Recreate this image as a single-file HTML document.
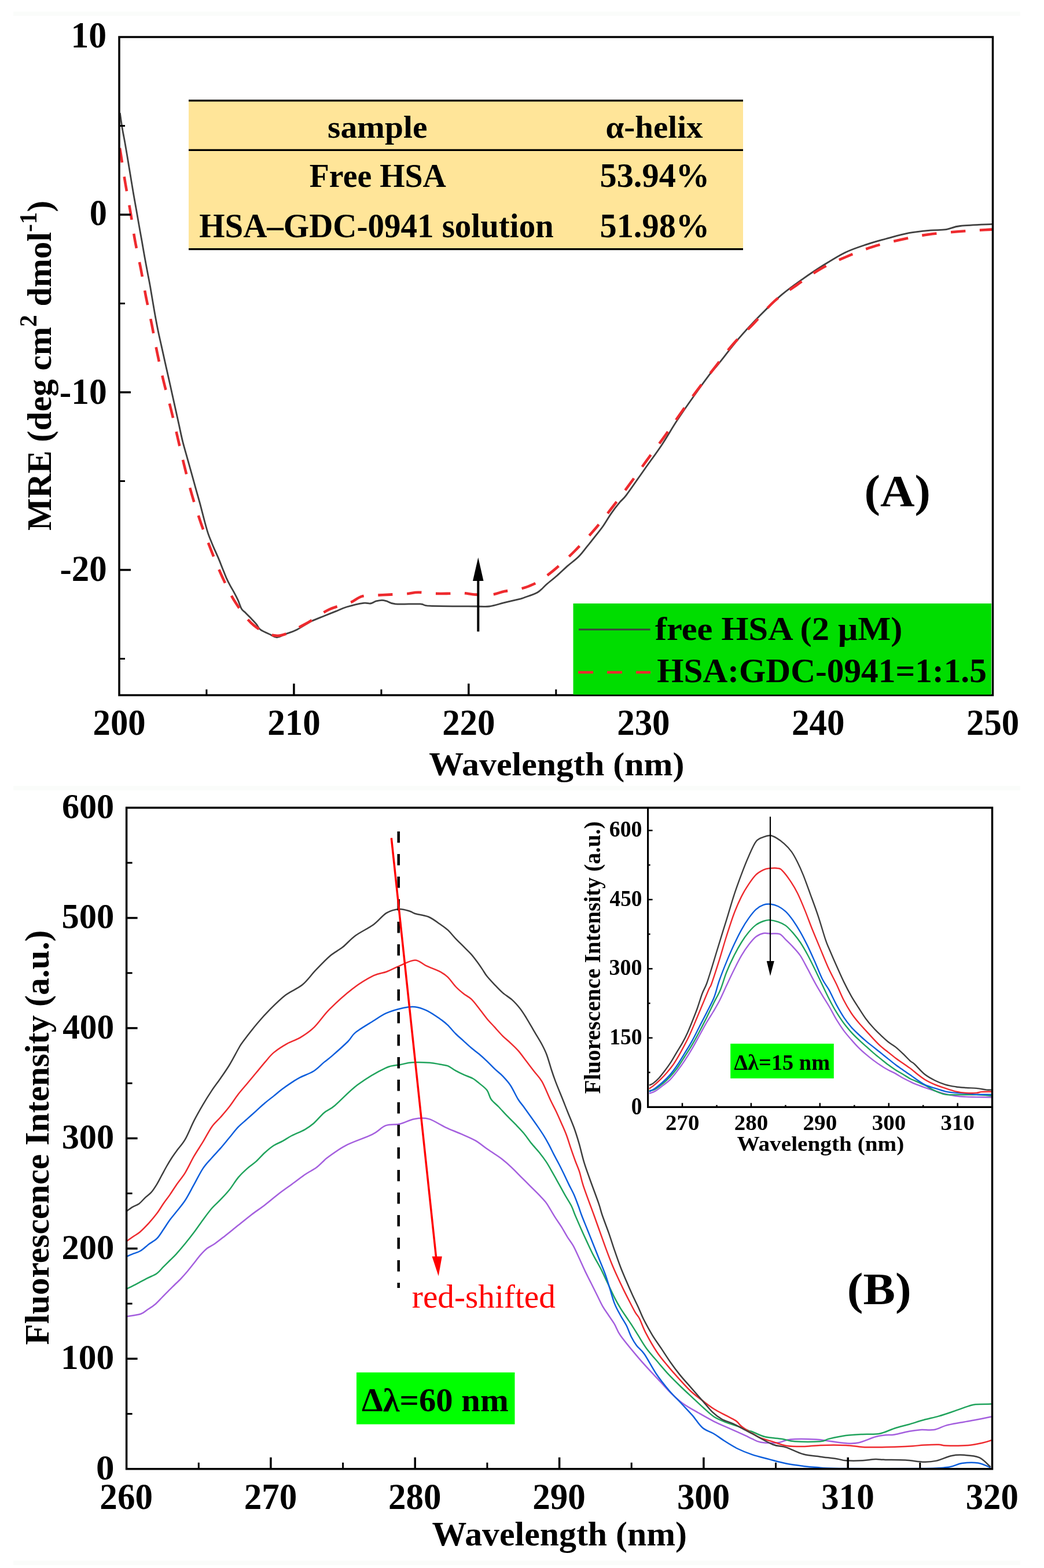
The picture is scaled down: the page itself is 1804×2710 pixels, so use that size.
<!DOCTYPE html><html><head><meta charset="utf-8"><title>CD and synchronous fluorescence spectra of HSA</title>
<style>html,body{margin:0;padding:0;background:#fff;overflow:hidden;}svg{display:block;}text{font-family:'Liberation Serif',serif;}</style></head><body>
<svg width="1804" height="2710" viewBox="0 0 1804 2710">
<rect x="0" y="0" width="1804" height="2710" fill="#ffffff"/>
<rect x="23" y="20.0" width="1740" height="7.5" fill="#fafcfa"/>
<rect x="23" y="1358.5" width="1740" height="7.5" fill="#fafcfa"/>
<rect x="23" y="2697.5" width="1740" height="7.5" fill="#fafcfa"/>
<rect x="326.0" y="173.5" width="958.0" height="257" fill="#ffe599"/>
<line x1="326.0" y1="173.8" x2="1284.0" y2="173.8" stroke="#000" stroke-width="3.2"/>
<line x1="326.0" y1="259.4" x2="1284.0" y2="259.4" stroke="#000" stroke-width="3.2"/>
<line x1="326.0" y1="430.6" x2="1284.0" y2="430.6" stroke="#000" stroke-width="3.2"/>
<g transform="matrix(1.00805,0,0,0.97864,-4.02,5.83)"><text id="sample" x="651.0" y="237.5" font-size="57" font-weight="bold" text-anchor="middle">sample</text></g>
<g transform="matrix(1.00030,0,0,0.96750,-0.82,8.24)"><text id="ahelix" x="1131.0" y="237.5" font-size="57" font-weight="bold" text-anchor="middle">α-helix</text></g>
<g transform="matrix(0.97954,0,0,1.00654,13.70,-1.86)"><text id="freehsa" x="652.5" y="322.3" font-size="57" font-weight="bold" text-anchor="middle">Free HSA</text></g>
<g transform="matrix(1.02423,0,0,1.02597,-25.01,-7.29)"><text id="p5394" x="1129.0" y="322.3" font-size="57" font-weight="bold" text-anchor="middle">53.94%</text></g>
<g transform="matrix(1.00000,0,0,1.03106,0.00,-11.46)"><text id="hsagdc" x="650.5" y="408.4" font-size="57" font-weight="bold" text-anchor="middle">HSA–GDC-0941 solution</text></g>
<g transform="matrix(1.02423,0,0,1.02857,-25.01,-10.04)"><text id="p5198" x="1129.0" y="408.4" font-size="57" font-weight="bold" text-anchor="middle">51.98%</text></g>
<path d="M207.3,195.3 C208.0,199.7 209.8,213.2 211.3,221.9 C212.8,230.6 214.5,238.5 216.1,247.7 C217.7,256.8 219.4,267.1 221.0,276.8 C222.6,286.5 224.2,296.1 225.8,305.8 C227.4,315.5 229.0,325.4 230.6,334.8 C232.2,344.2 233.9,353.2 235.5,362.3 C237.1,371.4 238.7,380.6 240.3,389.7 C241.9,398.8 243.6,408.0 245.2,417.1 C246.8,426.2 248.4,435.6 250.0,444.5 C251.6,453.4 253.2,461.7 254.8,470.3 C256.4,478.9 257.7,484.8 259.7,496.1 C261.7,507.4 264.6,525.6 266.8,538.0 C269.0,550.4 270.9,560.6 272.9,570.6 C274.9,580.6 277.0,588.9 279.0,598.1 C281.0,607.3 283.1,616.4 285.1,625.6 C287.2,634.8 289.2,643.9 291.3,653.1 C293.4,662.3 295.4,671.4 297.4,680.6 C299.4,689.8 301.5,698.9 303.5,708.1 C305.5,717.3 307.6,726.4 309.6,735.6 C311.6,744.8 313.4,753.9 315.7,763.1 C318.0,772.3 320.8,781.4 323.3,790.6 C325.9,799.8 328.4,808.9 331.0,818.1 C333.6,827.3 336.1,836.4 338.6,845.6 C341.2,854.8 343.8,863.7 346.3,873.1 C348.8,882.5 351.6,893.8 353.8,902.0 C356.0,910.2 357.7,916.4 359.7,922.4 C361.7,928.4 363.9,933.2 365.7,937.7 C367.5,942.2 368.7,945.1 370.7,949.6 C372.7,954.1 375.2,959.5 377.5,964.9 C379.8,970.3 382.0,976.2 384.3,981.9 C386.6,987.5 388.8,993.7 391.1,998.8 C393.4,1003.9 395.6,1008.1 397.9,1012.4 C400.2,1016.6 402.4,1020.0 404.7,1024.3 C407.0,1028.5 409.4,1033.2 411.5,1037.9 C413.6,1042.6 415.4,1048.9 417.4,1052.3 C419.4,1055.7 421.0,1055.9 423.4,1058.3 C425.8,1060.7 428.6,1063.4 431.9,1066.8 C435.1,1070.2 439.9,1075.0 442.9,1078.6 C445.9,1082.2 445.9,1085.2 449.9,1088.2 C453.9,1091.2 462.3,1094.6 467.1,1096.8 C471.9,1099.0 474.1,1101.8 478.6,1101.6 C483.1,1101.4 488.1,1098.0 493.9,1095.8 C499.6,1093.6 505.8,1091.9 513.1,1088.2 C520.4,1084.5 529.9,1077.8 537.9,1073.8 C545.9,1069.8 553.9,1067.2 560.9,1064.3 C567.9,1061.4 573.6,1059.1 580.0,1056.6 C586.4,1054.0 591.1,1051.4 599.1,1049.0 C607.1,1046.6 621.0,1043.3 627.8,1042.3 C634.6,1041.3 636.3,1043.6 640.0,1043.0 C643.7,1042.4 646.7,1039.9 650.0,1038.9 C653.3,1038.0 656.9,1037.3 659.9,1037.3 C662.9,1037.3 664.3,1037.8 668.2,1038.9 C672.1,1040.0 673.4,1043.1 683.1,1043.9 C692.8,1044.7 716.2,1043.4 726.2,1043.9 C736.2,1044.5 726.8,1046.5 742.8,1047.2 C758.8,1047.9 805.3,1047.9 822.4,1048.0 C839.5,1048.1 837.3,1049.1 845.6,1048.0 C853.9,1046.9 863.1,1043.6 872.2,1041.4 C881.3,1039.2 894.4,1036.2 900.0,1034.8 C905.6,1033.3 901.3,1034.5 906.1,1032.7 C910.9,1030.9 922.6,1027.6 929.0,1023.8 C935.4,1020.0 938.7,1014.9 944.3,1010.0 C949.9,1005.1 956.6,1000.1 962.7,994.7 C968.8,989.4 974.9,983.2 981.0,977.9 C987.1,972.5 993.8,968.2 999.4,962.6 C1005.0,957.0 1010.1,949.8 1014.7,944.2 C1019.3,938.6 1022.3,934.8 1026.9,928.9 C1031.5,923.0 1037.5,915.9 1042.3,909.0 C1047.1,902.1 1051.2,894.5 1056.0,887.6 C1060.8,880.7 1066.8,873.1 1071.3,867.7 C1075.8,862.3 1075.7,864.4 1082.7,855.1 C1089.7,845.8 1103.1,826.2 1113.3,811.7 C1123.5,797.2 1134.6,782.4 1143.9,768.4 C1153.2,754.4 1160.5,741.2 1169.4,727.6 C1178.3,714.0 1187.6,700.5 1197.4,686.7 C1207.2,672.9 1221.0,653.9 1228.1,644.6 C1235.2,635.3 1231.9,640.8 1240.0,630.8 C1248.1,620.8 1264.5,599.2 1276.7,584.9 C1289.0,570.6 1301.2,557.6 1313.5,545.1 C1325.8,532.6 1338.0,520.4 1350.2,509.9 C1362.4,499.4 1374.7,491.0 1386.9,482.3 C1399.2,473.6 1411.5,465.5 1423.7,457.8 C1436.0,450.1 1448.2,442.3 1460.4,436.4 C1472.6,430.5 1484.8,426.7 1497.1,422.6 C1509.3,418.5 1521.7,415.2 1533.9,411.9 C1546.2,408.6 1558.4,405.0 1570.6,402.7 C1582.8,400.4 1596.6,399.2 1607.3,398.2 C1618.0,397.2 1626.2,397.9 1634.9,396.6 C1643.6,395.3 1646.1,392.0 1659.4,390.5 C1672.7,389.0 1705.3,387.9 1714.5,387.4" fill="none" stroke="#404040" stroke-width="2.8" stroke-linejoin="round"/>
<path d="M207.0,255.9 C207.3,257.8 207.3,257.1 208.9,267.3 C210.5,277.5 213.8,300.4 216.6,317.0 C219.4,333.6 222.7,350.4 225.5,366.8 C228.3,383.2 230.2,398.9 233.2,415.3 C236.2,431.7 240.2,448.6 243.4,465.0 C246.6,481.4 249.1,497.3 252.3,513.5 C255.5,529.7 259.3,545.9 262.5,562.0 C265.7,578.1 268.2,593.5 271.7,610.0 C275.1,626.5 279.1,644.4 283.2,661.0 C287.2,677.6 292.0,693.5 296.0,709.7 C300.0,725.9 303.6,742.1 307.4,758.2 C311.2,774.4 314.9,790.5 318.9,806.6 C322.9,822.8 326.9,838.9 331.6,855.1 C336.3,871.3 341.5,887.7 347.0,903.6 C352.5,919.5 358.7,935.3 364.8,950.8 C370.9,966.3 376.9,981.6 383.9,996.7 C390.9,1011.8 397.8,1027.3 406.9,1041.3 C416.0,1055.3 426.7,1071.3 438.8,1080.9 C450.9,1090.5 465.2,1098.9 479.6,1098.7 C494.1,1098.5 510.7,1087.1 525.5,1079.6 C540.3,1072.1 555.2,1059.8 568.5,1053.5 C581.8,1047.2 595.5,1045.4 605.0,1041.6 C614.5,1037.8 617.8,1032.7 625.5,1030.6 C633.2,1028.5 642.9,1029.3 651.0,1028.8 C659.1,1028.3 665.5,1028.0 674.0,1027.6 C682.5,1027.2 693.9,1026.9 702.0,1026.3 C710.1,1025.7 714.3,1023.8 722.4,1023.7 C730.5,1023.6 741.6,1025.5 750.5,1025.8 C759.4,1026.1 767.9,1025.9 776.0,1025.8 C784.1,1025.7 791.3,1024.7 799.0,1025.0 C806.7,1025.3 813.5,1027.2 822.0,1027.6 C830.5,1028.0 841.7,1028.5 850.0,1027.6 C858.3,1026.7 863.6,1023.6 871.7,1022.0 C879.8,1020.4 890.0,1020.0 898.5,1017.9 C907.0,1015.8 914.8,1013.1 922.7,1009.2 C930.6,1005.3 938.5,999.6 945.7,994.4 C952.9,989.2 958.0,984.9 966.0,977.8 C974.0,970.7 983.3,962.2 993.4,952.0 C1003.5,941.8 1015.9,928.6 1026.5,916.3 C1037.1,904.0 1046.9,891.2 1057.1,878.0 C1067.3,864.8 1077.8,850.8 1087.8,837.2 C1097.8,823.6 1107.3,809.8 1117.1,796.4 C1126.9,783.0 1136.6,770.5 1146.4,756.9 C1156.2,743.3 1166.0,728.6 1175.8,714.8 C1185.6,701.0 1195.1,687.4 1205.1,674.0 C1215.1,660.6 1225.3,647.7 1235.7,634.4 C1246.1,621.1 1256.6,606.3 1267.5,594.0 C1278.4,581.7 1289.5,572.6 1301.2,560.4 C1313.0,548.2 1325.5,531.8 1338.0,520.6 C1350.5,509.4 1363.0,502.3 1376.2,493.0 C1389.5,483.7 1403.2,473.1 1417.5,464.9 C1431.8,456.7 1446.9,450.4 1461.9,444.0 C1477.0,437.6 1492.2,431.5 1507.8,426.6 C1523.4,421.7 1539.2,418.0 1555.3,414.4 C1571.4,410.8 1587.7,407.5 1604.3,405.2 C1620.9,402.9 1638.5,401.6 1654.8,400.3 C1671.1,399.0 1692.2,397.8 1702.2,397.2 C1712.2,396.6 1712.5,396.7 1714.5,396.6" fill="none" stroke="#ee2a2e" stroke-width="4.6" stroke-dasharray="25.5,24.5"/>
<line x1="826.3" y1="1091.5" x2="826.3" y2="1000" stroke="#000" stroke-width="4"/>
<polygon points="817,1004 835.5,1004 826.3,963.5" fill="#000"/>
<rect x="206.0" y="64.0" width="1509.5" height="1137.5" fill="none" stroke="#000" stroke-width="3.5"/>
<line x1="206.0" y1="371.0" x2="226.0" y2="371.0" stroke="#000" stroke-width="3.5"/>
<line x1="206.0" y1="678.0" x2="226.0" y2="678.0" stroke="#000" stroke-width="3.5"/>
<line x1="206.0" y1="985.0" x2="226.0" y2="985.0" stroke="#000" stroke-width="3.5"/>
<line x1="206.0" y1="217.5" x2="216.0" y2="217.5" stroke="#000" stroke-width="3"/>
<line x1="206.0" y1="524.5" x2="216.0" y2="524.5" stroke="#000" stroke-width="3"/>
<line x1="206.0" y1="831.5" x2="216.0" y2="831.5" stroke="#000" stroke-width="3"/>
<line x1="206.0" y1="1138.5" x2="216.0" y2="1138.5" stroke="#000" stroke-width="3"/>
<line x1="507.9" y1="1201.5" x2="507.9" y2="1181.5" stroke="#000" stroke-width="3.5"/>
<line x1="809.8" y1="1201.5" x2="809.8" y2="1181.5" stroke="#000" stroke-width="3.5"/>
<line x1="1111.7" y1="1201.5" x2="1111.7" y2="1181.5" stroke="#000" stroke-width="3.5"/>
<line x1="1413.6" y1="1201.5" x2="1413.6" y2="1181.5" stroke="#000" stroke-width="3.5"/>
<line x1="356.9" y1="1201.5" x2="356.9" y2="1191.5" stroke="#000" stroke-width="3"/>
<line x1="658.9" y1="1201.5" x2="658.9" y2="1191.5" stroke="#000" stroke-width="3"/>
<line x1="960.8" y1="1201.5" x2="960.8" y2="1191.5" stroke="#000" stroke-width="3"/>
<line x1="1262.7" y1="1201.5" x2="1262.7" y2="1191.5" stroke="#000" stroke-width="3"/>
<line x1="1564.5" y1="1201.5" x2="1564.5" y2="1191.5" stroke="#000" stroke-width="3"/>
<rect x="990.5" y="1043" width="722.5" height="157.5" fill="#00dd00"/>
<line x1="1000" y1="1088" x2="1123.5" y2="1088" stroke="#404040" stroke-width="2.8"/>
<line x1="999" y1="1162" x2="1124" y2="1162" stroke="#ee2a2e" stroke-width="4.6" stroke-dasharray="26,24"/>
<g transform="matrix(0.99101,0,0,0.93929,6.12,65.90)"><text id="leg1" x="1136.0" y="1107.0" font-size="61" font-weight="bold">free HSA (2 μM)</text></g>
<g transform="matrix(0.97295,0,0,0.97697,30.06,26.96)"><text id="leg2" x="1136.0" y="1178.8" font-size="61" font-weight="bold">HSA:GDC-0941=1:1.5</text></g>
<g transform="matrix(0.99543,0,0,1.02036,1.08,-4.34)"><text id="ay10" x="184.0" y="85.0" font-size="62" font-weight="bold" text-anchor="end">10</text></g>
<g transform="matrix(0.97358,0,0,1.01796,5.75,-9.65)"><text id="ay0" x="184.0" y="392.0" font-size="62" font-weight="bold" text-anchor="end">0</text></g>
<g transform="matrix(0.99359,0,0,1.00838,2.12,-6.46)"><text id="aym10" x="184.0" y="699.0" font-size="62" font-weight="bold" text-anchor="end">-10</text></g>
<g transform="matrix(0.98077,0,0,1.00838,4.15,-10.34)"><text id="aym20" x="184.0" y="1006.0" font-size="62" font-weight="bold" text-anchor="end">-20</text></g>
<g transform="matrix(0.98017,0,0,1.01078,4.21,-14.20)"><text id="ax200" x="206.0" y="1271.0" font-size="62" font-weight="bold" text-anchor="middle">200</text></g>
<g transform="matrix(0.98295,0,0,1.01078,8.81,-14.20)"><text id="ax210" x="507.9" y="1271.0" font-size="62" font-weight="bold" text-anchor="middle">210</text></g>
<g transform="matrix(0.98295,0,0,1.01078,13.86,-14.20)"><text id="ax220" x="809.8" y="1271.0" font-size="62" font-weight="bold" text-anchor="middle">220</text></g>
<g transform="matrix(0.98295,0,0,1.01078,19.15,-14.20)"><text id="ax230" x="1111.7" y="1271.0" font-size="62" font-weight="bold" text-anchor="middle">230</text></g>
<g transform="matrix(0.98295,0,0,1.01078,24.20,-14.20)"><text id="ax240" x="1413.6" y="1271.0" font-size="62" font-weight="bold" text-anchor="middle">240</text></g>
<g transform="matrix(0.98017,0,0,1.01078,34.15,-14.20)"><text id="ax250" x="1715.5" y="1271.0" font-size="62" font-weight="bold" text-anchor="middle">250</text></g>
<g transform="matrix(0.98249,0,0,0.94350,18.25,75.37)"><text id="axlab" x="960.5" y="1340.8" font-size="61" font-weight="bold" text-anchor="middle">Wavelength (nm)</text></g>
<g transform="matrix(0.98636,0,0,0.98736,0.24,7.38)"><text id="aylab" transform="translate(88.6,632.5) rotate(-90)" font-size="60" font-weight="bold" text-anchor="middle">MRE (deg cm<tspan font-size="42" dy="-25">2</tspan><tspan dy="25"> dmol</tspan><tspan font-size="42" dy="-25">-1</tspan><tspan dy="25">)</tspan></text></g>
<g transform="matrix(0.99397,0,0,0.93600,5.50,54.65)"><text id="Alab" x="1497.0" y="876.3" font-size="83" font-weight="bold">(A)</text></g>
<rect x="616" y="2372" width="273.5" height="89.6" fill="#00ff00"/>
<g transform="matrix(0.97808,0,0,0.94971,13.67,122.95)"><text id="dl60" x="625.0" y="2439.2" font-size="60" font-weight="bold">Δλ=60 nm</text></g>
<path d="M219.2,2275.2 C223.2,2274.5 237.2,2272.9 243.0,2271.0 C248.8,2269.1 250.0,2266.8 254.2,2264.0 C258.4,2261.2 264.0,2257.7 268.2,2254.2 C272.4,2250.7 275.7,2246.8 279.4,2243.0 C283.1,2239.2 286.9,2235.4 290.6,2231.7 C294.3,2227.9 298.1,2224.2 301.8,2220.5 C305.6,2216.8 309.4,2213.3 313.1,2209.3 C316.9,2205.3 320.6,2201.1 324.3,2196.7 C328.0,2192.3 331.8,2187.4 335.5,2182.7 C339.2,2178.0 343.0,2172.9 346.7,2168.7 C350.4,2164.5 353.9,2160.6 357.9,2157.5 C361.9,2154.4 365.3,2153.6 370.5,2150.0 C375.7,2146.4 382.0,2141.3 388.9,2135.9 C395.8,2130.5 404.1,2123.7 411.8,2117.6 C419.5,2111.5 427.1,2105.1 434.8,2099.2 C442.5,2093.3 450.2,2088.3 457.8,2082.4 C465.4,2076.5 473.1,2069.9 480.7,2064.0 C488.3,2058.1 496.0,2052.8 503.7,2047.2 C511.4,2041.6 519.5,2035.2 526.6,2030.3 C533.7,2025.4 540.9,2022.2 546.5,2018.1 C552.1,2014.0 556.6,2008.8 560.0,2005.8 C563.4,2002.8 560.6,2004.3 566.8,2000.0 C573.0,1995.7 584.6,1986.3 597.4,1979.8 C610.1,1973.2 631.8,1966.4 643.3,1960.7 C654.8,1955.0 658.3,1948.4 666.3,1945.4 C674.3,1942.4 682.8,1944.4 691.1,1942.5 C699.4,1940.6 707.7,1935.3 716.0,1933.9 C724.3,1932.5 732.0,1931.5 740.9,1933.9 C749.8,1936.3 760.4,1944.0 769.6,1948.3 C778.9,1952.6 787.8,1955.9 796.4,1959.7 C805.0,1963.5 813.9,1967.1 821.2,1971.2 C828.5,1975.3 834.7,1980.9 840.0,1984.6 C845.3,1988.3 848.5,1990.1 853.0,1993.2 C857.5,1996.3 862.0,1999.0 867.1,2003.0 C872.2,2007.0 878.0,2012.0 883.4,2017.1 C888.8,2022.1 894.2,2027.9 899.6,2033.3 C905.0,2038.7 910.5,2044.2 915.9,2049.6 C921.3,2055.0 927.7,2061.2 932.2,2065.9 C936.7,2070.6 939.9,2073.8 943.0,2077.8 C946.1,2081.8 947.8,2085.1 950.6,2089.7 C953.4,2094.2 956.7,2100.0 960.0,2105.1 C963.3,2110.2 966.8,2114.9 970.2,2120.4 C973.6,2125.9 977.0,2132.4 980.4,2137.8 C983.8,2143.2 987.2,2147.0 990.6,2153.1 C994.0,2159.2 997.4,2167.2 1000.8,2174.5 C1004.2,2181.8 1007.6,2189.8 1011.0,2196.9 C1014.4,2204.0 1017.8,2210.5 1021.2,2217.3 C1024.6,2224.1 1028.0,2231.0 1031.4,2237.8 C1034.8,2244.6 1038.2,2252.2 1041.6,2258.2 C1045.0,2264.1 1048.4,2268.4 1051.8,2273.5 C1055.2,2278.6 1058.6,2283.0 1062.0,2288.8 C1065.4,2294.6 1065.9,2299.2 1072.2,2308.2 C1078.5,2317.2 1092.0,2333.3 1100.0,2342.9 C1108.0,2352.5 1113.4,2358.3 1120.1,2365.7 C1126.8,2373.1 1133.5,2379.9 1140.2,2387.1 C1146.9,2394.2 1153.6,2402.1 1160.3,2408.6 C1167.0,2415.1 1172.6,2420.4 1180.4,2426.0 C1188.2,2431.6 1198.2,2436.9 1207.1,2442.0 C1216.0,2447.1 1225.0,2452.3 1233.9,2456.8 C1242.8,2461.3 1251.8,2464.8 1260.7,2468.8 C1269.6,2472.8 1281.0,2477.9 1287.5,2480.9 C1294.0,2483.9 1295.5,2484.9 1300.0,2486.9 C1304.5,2488.9 1307.4,2491.7 1314.7,2492.8 C1322.0,2493.9 1335.5,2494.3 1344.0,2493.5 C1352.5,2492.7 1355.0,2488.7 1366.0,2487.7 C1377.0,2486.7 1399.0,2487.2 1410.0,2487.7 C1421.0,2488.2 1423.4,2489.5 1432.0,2490.6 C1440.6,2491.7 1452.8,2493.8 1461.4,2494.3 C1470.0,2494.8 1474.9,2495.3 1483.4,2493.5 C1492.0,2491.7 1504.9,2485.5 1512.7,2483.3 C1520.5,2481.1 1524.5,2480.9 1530.0,2480.3 C1535.5,2479.7 1538.7,2480.6 1545.5,2479.5 C1552.3,2478.4 1563.5,2475.2 1571.0,2473.8 C1578.5,2472.4 1583.0,2471.7 1590.2,2471.2 C1597.4,2470.7 1607.0,2472.3 1614.4,2471.0 C1621.8,2469.7 1627.2,2465.7 1634.8,2463.6 C1642.4,2461.5 1651.8,2460.1 1660.3,2458.5 C1668.8,2456.9 1677.0,2455.7 1685.8,2454.0 C1694.6,2452.3 1708.5,2449.5 1713.0,2448.6" fill="none" stroke="#a45fde" stroke-width="2.5" stroke-linejoin="round"/>
<path d="M219.2,2227.5 C222.0,2226.1 230.2,2222.1 236.0,2219.1 C241.8,2216.1 248.4,2212.3 254.2,2209.3 C260.0,2206.3 266.3,2204.2 271.0,2200.9 C275.7,2197.6 278.5,2193.4 282.2,2189.7 C285.9,2186.0 289.7,2182.2 293.4,2178.5 C297.1,2174.8 300.2,2172.2 304.6,2167.3 C309.0,2162.4 314.9,2155.6 320.0,2149.3 C325.1,2143.1 330.2,2136.6 335.3,2129.8 C340.4,2123.0 345.5,2115.3 350.6,2108.4 C355.7,2101.5 360.8,2094.4 365.9,2088.5 C371.0,2082.6 376.1,2078.6 381.2,2073.2 C386.3,2067.8 391.4,2062.7 396.5,2056.3 C401.6,2049.9 406.7,2041.0 411.8,2034.9 C416.9,2028.8 422.0,2024.2 427.1,2019.6 C432.2,2015.0 437.4,2012.0 442.5,2007.4 C447.6,2002.8 452.7,1996.6 457.8,1992.0 C462.9,1987.4 468.0,1983.1 473.1,1979.8 C478.2,1976.5 483.3,1975.0 488.4,1972.2 C493.5,1969.4 497.3,1966.3 503.7,1963.0 C510.1,1959.7 520.2,1955.9 526.6,1952.3 C533.0,1948.7 536.4,1946.3 542.0,1941.5 C547.6,1936.7 554.0,1928.3 560.0,1923.2 C566.0,1918.1 568.6,1919.1 578.3,1911.0 C588.0,1902.9 603.7,1885.4 618.4,1874.6 C633.1,1863.8 654.2,1851.6 666.3,1845.9 C678.4,1840.2 683.5,1841.8 691.1,1840.2 C698.8,1838.6 703.6,1836.9 712.2,1836.3 C720.8,1835.7 734.8,1836.2 742.8,1836.7 C750.8,1837.2 754.9,1838.6 760.0,1839.5 C765.1,1840.4 769.1,1840.4 773.6,1842.2 C778.1,1844.0 782.7,1847.9 787.2,1850.4 C791.7,1852.9 795.8,1854.9 800.8,1857.2 C805.8,1859.5 812.6,1861.5 817.1,1864.0 C821.6,1866.5 823.8,1868.7 827.9,1872.1 C832.0,1875.5 838.0,1879.6 841.5,1884.3 C845.0,1889.0 845.3,1895.2 848.7,1900.0 C852.1,1904.8 857.2,1908.3 861.7,1913.0 C866.2,1917.7 870.9,1923.1 875.8,1928.2 C880.7,1933.3 886.1,1938.4 891.0,1943.4 C895.9,1948.5 900.5,1953.1 905.0,1958.5 C909.5,1963.9 913.6,1970.3 918.1,1975.9 C922.6,1981.5 927.9,1986.8 932.2,1992.2 C936.5,1997.6 940.3,2002.6 944.1,2008.4 C947.9,2014.2 951.3,2020.5 954.9,2026.8 C958.5,2033.1 962.2,2039.9 965.8,2046.4 C969.4,2052.9 973.0,2059.6 976.6,2065.9 C980.2,2072.2 984.5,2078.6 987.4,2084.3 C990.2,2090.0 991.0,2093.5 993.7,2100.0 C996.5,2106.5 1000.5,2115.8 1003.9,2123.5 C1007.3,2131.2 1010.5,2138.2 1014.1,2145.9 C1017.7,2153.6 1021.4,2161.8 1025.3,2169.4 C1029.2,2177.1 1033.5,2183.8 1037.6,2191.8 C1041.7,2199.8 1045.7,2208.8 1049.8,2217.3 C1053.9,2225.8 1058.3,2235.6 1062.0,2242.9 C1065.7,2250.2 1068.8,2255.6 1072.2,2261.2 C1075.6,2266.8 1079.0,2271.4 1082.4,2276.5 C1085.8,2281.6 1089.3,2286.5 1092.7,2291.8 C1096.1,2297.1 1098.8,2301.7 1102.9,2308.2 C1107.0,2314.7 1111.6,2323.1 1117.4,2330.9 C1123.2,2338.7 1131.0,2347.4 1137.5,2355.0 C1144.0,2362.6 1149.7,2369.5 1156.2,2376.4 C1162.7,2383.3 1169.6,2390.0 1176.3,2396.5 C1183.0,2403.0 1189.7,2409.1 1196.4,2415.3 C1203.1,2421.6 1210.2,2428.4 1216.5,2434.0 C1222.8,2439.6 1227.7,2444.7 1233.9,2448.7 C1240.2,2452.7 1247.3,2455.4 1254.0,2458.1 C1260.7,2460.8 1267.4,2462.4 1274.1,2464.8 C1280.8,2467.2 1289.9,2471.2 1294.2,2472.8 C1298.5,2474.4 1295.4,2472.8 1300.0,2474.5 C1304.6,2476.2 1313.5,2481.2 1322.0,2483.3 C1330.5,2485.4 1342.8,2485.6 1351.3,2486.9 C1359.8,2488.2 1362.3,2490.6 1373.3,2491.3 C1384.3,2492.0 1407.6,2492.0 1417.4,2491.3 C1427.2,2490.6 1424.7,2488.6 1432.0,2486.9 C1439.3,2485.2 1451.6,2482.4 1461.4,2481.1 C1471.2,2479.8 1480.9,2479.4 1490.7,2478.9 C1500.5,2478.4 1510.9,2479.5 1520.0,2477.8 C1529.1,2476.1 1537.0,2471.4 1545.5,2468.7 C1554.0,2466.0 1562.5,2464.1 1571.0,2461.7 C1579.5,2459.2 1588.0,2456.3 1596.5,2454.0 C1605.0,2451.7 1613.5,2450.0 1622.0,2447.6 C1630.5,2445.2 1639.1,2442.2 1647.6,2439.3 C1656.1,2436.4 1666.7,2432.4 1673.1,2430.4 C1679.5,2428.4 1679.1,2427.8 1685.8,2427.2 C1692.5,2426.6 1708.5,2426.7 1713.0,2426.6" fill="none" stroke="#20a35c" stroke-width="2.5" stroke-linejoin="round"/>
<path d="M219.2,2171.5 C220.8,2170.8 225.0,2168.9 229.0,2167.3 C233.0,2165.7 238.3,2164.5 243.0,2161.7 C247.7,2158.9 252.3,2154.0 257.0,2150.5 C261.7,2147.0 266.8,2144.9 271.0,2140.7 C275.2,2136.5 278.5,2130.7 282.2,2125.3 C285.9,2119.9 289.7,2113.6 293.4,2108.5 C297.1,2103.4 300.2,2100.2 304.6,2094.5 C309.0,2088.8 314.9,2082.4 320.0,2074.5 C325.1,2066.6 330.2,2056.3 335.3,2047.2 C340.4,2038.0 345.5,2027.3 350.6,2019.6 C355.7,2011.9 360.8,2007.1 365.9,2001.2 C371.0,1995.3 376.1,1990.3 381.2,1984.4 C386.3,1978.5 391.4,1972.1 396.5,1966.0 C401.6,1959.9 406.7,1953.0 411.8,1947.7 C416.9,1942.4 422.0,1938.5 427.1,1933.9 C432.2,1929.3 437.4,1924.7 442.5,1920.1 C447.6,1915.5 452.7,1910.6 457.8,1906.3 C462.9,1902.0 468.0,1898.2 473.1,1894.1 C478.2,1890.0 483.3,1885.6 488.4,1881.8 C493.5,1878.0 498.6,1874.4 503.7,1871.1 C508.8,1867.8 512.6,1865.2 519.0,1861.9 C525.4,1858.6 535.2,1855.5 542.0,1851.2 C548.8,1846.9 554.6,1840.3 560.0,1835.9 C565.4,1831.5 567.2,1830.6 574.1,1824.6 C581.0,1818.6 594.5,1806.7 601.2,1800.0 C607.9,1793.3 606.9,1790.4 614.3,1784.4 C621.7,1778.5 636.6,1769.9 645.5,1764.3 C654.4,1758.7 659.3,1754.6 667.9,1750.9 C676.5,1747.2 688.7,1743.8 696.9,1742.0 C705.1,1740.2 710.3,1739.5 717.0,1740.2 C723.7,1740.9 729.8,1743.0 737.0,1746.4 C744.2,1749.8 753.9,1756.5 760.0,1760.7 C766.1,1764.9 769.1,1767.3 773.6,1771.6 C778.1,1775.9 782.7,1782.0 787.2,1786.5 C791.7,1791.0 796.3,1794.7 800.8,1798.8 C805.3,1802.9 809.8,1807.2 814.3,1811.0 C818.8,1814.8 823.4,1818.0 827.9,1821.8 C832.4,1825.6 837.0,1829.8 841.5,1834.1 C846.0,1838.4 850.6,1843.4 855.1,1847.7 C859.6,1852.0 864.2,1855.2 868.7,1859.9 C873.2,1864.7 877.9,1869.5 882.3,1876.2 C886.7,1882.9 891.5,1893.9 895.3,1900.0 C899.1,1906.1 901.6,1908.3 905.0,1913.0 C908.4,1917.7 911.9,1922.6 915.9,1928.2 C919.9,1933.8 924.9,1940.8 928.9,1946.6 C932.9,1952.4 936.5,1957.7 939.7,1962.9 C943.0,1968.2 945.5,1972.7 948.4,1978.1 C951.3,1983.5 954.2,1989.8 957.1,1995.4 C960.0,2001.0 962.9,2006.1 965.8,2011.7 C968.7,2017.3 971.5,2023.0 974.4,2029.0 C977.3,2035.0 980.2,2041.4 983.1,2047.4 C986.0,2053.4 989.1,2058.7 991.8,2064.8 C994.5,2071.0 997.2,2078.4 999.4,2084.3 C1001.6,2090.2 1002.3,2093.1 1004.9,2100.0 C1007.5,2106.9 1011.7,2117.0 1015.1,2125.5 C1018.5,2134.0 1021.9,2142.5 1025.3,2151.0 C1028.7,2159.5 1032.1,2168.0 1035.5,2176.5 C1038.9,2185.0 1042.6,2193.5 1045.7,2202.0 C1048.8,2210.5 1051.2,2219.1 1053.9,2227.6 C1056.6,2236.1 1059.0,2245.4 1062.0,2253.1 C1065.0,2260.8 1068.8,2267.2 1072.2,2273.5 C1075.6,2279.8 1079.3,2284.7 1082.4,2290.8 C1085.5,2296.9 1087.7,2304.2 1090.6,2310.0 C1093.5,2315.8 1096.2,2320.4 1100.0,2325.5 C1103.8,2330.6 1107.8,2332.3 1113.4,2340.3 C1119.0,2348.3 1126.4,2363.2 1133.5,2373.7 C1140.6,2384.2 1148.8,2394.5 1156.2,2403.2 C1163.6,2411.9 1171.0,2418.8 1177.7,2426.0 C1184.4,2433.2 1190.4,2439.2 1196.4,2446.1 C1202.4,2453.0 1207.5,2462.2 1213.8,2467.5 C1220.0,2472.8 1227.7,2474.4 1233.9,2478.2 C1240.2,2481.9 1244.5,2485.7 1251.3,2490.0 C1258.1,2494.3 1266.9,2500.0 1275.0,2504.0 C1283.1,2508.0 1291.0,2511.1 1300.0,2514.1 C1309.0,2517.1 1319.5,2519.5 1329.3,2522.1 C1339.1,2524.7 1348.9,2527.5 1358.7,2529.5 C1368.5,2531.5 1379.2,2532.8 1388.0,2533.9 C1396.8,2535.0 1401.2,2535.4 1411.5,2536.1 C1421.8,2536.8 1418.6,2537.7 1450.0,2538.0 C1481.4,2538.3 1568.3,2538.4 1600.0,2538.0 C1631.7,2537.6 1629.9,2536.9 1640.2,2535.4 C1650.5,2533.9 1653.6,2530.1 1661.9,2528.9 C1670.2,2527.8 1681.7,2527.2 1690.0,2528.5 C1698.3,2529.8 1708.1,2535.2 1711.7,2536.5" fill="none" stroke="#0c5edc" stroke-width="2.5" stroke-linejoin="round"/>
<path d="M219.2,2144.9 C220.8,2143.7 225.3,2140.5 229.0,2137.9 C232.7,2135.3 236.9,2133.5 241.6,2129.5 C246.3,2125.5 252.1,2119.5 257.0,2114.1 C261.9,2108.7 266.8,2102.9 271.0,2097.3 C275.2,2091.7 278.5,2085.9 282.2,2080.5 C285.9,2075.1 289.7,2070.5 293.4,2065.1 C297.1,2059.7 300.2,2054.6 304.6,2048.2 C309.0,2041.8 314.9,2035.1 320.0,2026.8 C325.1,2018.5 330.2,2007.0 335.3,1998.2 C340.4,1989.4 345.5,1982.1 350.6,1973.7 C355.7,1965.3 360.8,1954.9 365.9,1947.7 C371.0,1940.5 376.1,1936.7 381.2,1930.8 C386.3,1924.9 391.4,1919.1 396.5,1912.5 C401.6,1905.9 406.7,1897.6 411.8,1891.0 C416.9,1884.4 422.0,1878.8 427.1,1872.7 C432.2,1866.6 437.4,1860.4 442.5,1854.3 C447.6,1848.2 452.7,1841.8 457.8,1835.9 C462.9,1830.0 466.7,1824.4 473.1,1819.1 C479.5,1813.8 488.4,1808.1 496.0,1803.8 C503.6,1799.5 511.2,1797.8 519.0,1793.1 C526.8,1788.4 534.5,1783.6 542.9,1775.4 C551.3,1767.2 558.5,1755.4 569.6,1744.2 C580.8,1733.0 597.1,1718.2 609.8,1708.5 C622.4,1698.8 635.8,1691.0 645.5,1686.2 C655.2,1681.4 660.4,1682.3 667.9,1679.5 C675.4,1676.7 682.0,1672.8 690.2,1669.4 C698.4,1666.1 709.2,1659.4 717.0,1659.4 C724.8,1659.4 729.8,1666.1 737.0,1669.4 C744.2,1672.7 753.9,1676.0 760.0,1679.2 C766.1,1682.4 769.1,1684.4 773.6,1688.7 C778.1,1693.0 782.7,1700.2 787.2,1705.0 C791.7,1709.8 796.3,1713.6 800.8,1717.2 C805.3,1720.8 809.8,1722.4 814.3,1726.7 C818.8,1731.0 823.4,1737.3 827.9,1743.0 C832.4,1748.7 837.0,1755.2 841.5,1760.7 C846.0,1766.2 850.6,1770.7 855.1,1775.7 C859.6,1780.7 864.2,1786.1 868.7,1790.6 C873.2,1795.1 877.8,1798.5 882.3,1802.8 C886.8,1807.1 891.4,1811.2 895.9,1816.4 C900.4,1821.6 905.0,1828.2 909.5,1834.1 C914.0,1840.0 918.5,1845.8 923.0,1851.7 C927.5,1857.6 932.0,1861.4 936.6,1869.4 C941.2,1877.5 946.5,1891.3 950.6,1900.0 C954.7,1908.7 958.1,1914.8 961.4,1921.7 C964.6,1928.6 967.2,1934.5 970.1,1941.2 C973.0,1947.9 976.1,1954.6 978.8,1961.8 C981.5,1969.0 983.9,1977.2 986.4,1984.6 C988.9,1992.0 991.5,1999.3 994.0,2006.2 C996.5,2013.1 999.2,2018.6 1001.5,2025.8 C1003.8,2033.0 1003.9,2037.2 1008.0,2049.6 C1012.1,2062.0 1021.5,2086.8 1026.3,2100.0 C1031.0,2113.2 1033.1,2119.1 1036.5,2128.6 C1039.9,2138.1 1043.3,2147.9 1046.7,2157.1 C1050.1,2166.3 1053.5,2175.4 1056.9,2183.7 C1060.3,2192.0 1063.7,2199.6 1067.1,2207.1 C1070.5,2214.6 1073.9,2221.6 1077.3,2228.6 C1080.7,2235.6 1084.2,2242.4 1087.6,2249.0 C1091.0,2255.6 1094.9,2263.4 1097.8,2268.4 C1100.7,2273.4 1102.0,2273.1 1105.0,2279.0 C1108.0,2284.9 1111.1,2294.6 1116.1,2304.1 C1121.1,2313.6 1128.5,2326.8 1134.8,2336.2 C1141.0,2345.6 1147.3,2352.8 1153.6,2360.4 C1159.8,2368.0 1165.6,2374.5 1172.3,2381.8 C1179.0,2389.2 1186.8,2398.0 1193.7,2404.5 C1200.6,2411.0 1207.1,2415.5 1213.8,2420.6 C1220.5,2425.7 1227.2,2431.1 1233.9,2435.3 C1240.6,2439.6 1247.8,2442.8 1254.0,2446.1 C1260.2,2449.4 1266.9,2452.3 1271.4,2455.4 C1275.9,2458.5 1277.0,2461.7 1280.8,2464.8 C1284.6,2467.9 1291.0,2472.1 1294.2,2474.2 C1297.4,2476.3 1296.6,2475.5 1300.0,2477.4 C1303.4,2479.3 1308.6,2483.1 1314.7,2485.5 C1320.8,2487.9 1329.4,2489.9 1336.7,2492.1 C1344.0,2494.3 1350.2,2497.4 1358.7,2498.7 C1367.2,2500.0 1378.2,2500.2 1388.0,2500.1 C1397.8,2500.0 1405.2,2498.3 1417.4,2497.9 C1429.6,2497.5 1449.2,2497.4 1461.4,2497.9 C1473.6,2498.4 1480.9,2500.4 1490.7,2500.9 C1500.5,2501.4 1509.8,2501.2 1520.0,2501.2 C1530.2,2501.1 1542.3,2500.9 1551.9,2500.6 C1561.5,2500.3 1570.0,2499.8 1577.4,2499.3 C1584.8,2498.8 1589.1,2497.8 1596.5,2497.4 C1603.9,2497.0 1615.6,2496.5 1622.0,2496.7 C1628.4,2496.9 1626.3,2498.4 1634.8,2498.6 C1643.3,2498.8 1662.5,2498.8 1673.1,2498.0 C1683.7,2497.2 1691.9,2494.9 1698.6,2493.5 C1705.2,2492.1 1710.6,2490.0 1713.0,2489.3" fill="none" stroke="#ee2a2e" stroke-width="2.5" stroke-linejoin="round"/>
<path d="M219.2,2093.1 C220.8,2091.9 225.5,2088.2 229.0,2086.1 C232.5,2084.0 236.5,2083.3 240.2,2080.5 C243.9,2077.7 247.9,2072.6 251.4,2069.3 C254.9,2066.0 257.9,2064.7 261.2,2060.9 C264.5,2057.2 268.0,2051.7 271.0,2046.8 C274.0,2041.9 276.6,2036.5 279.4,2031.4 C282.2,2026.3 285.0,2020.9 287.8,2016.0 C290.6,2011.1 293.2,2006.7 296.2,2002.0 C299.2,1997.3 302.0,1993.5 306.0,1988.0 C310.0,1982.5 315.1,1977.6 320.0,1969.1 C324.9,1960.6 330.2,1946.9 335.3,1936.9 C340.4,1927.0 345.5,1918.1 350.6,1909.4 C355.7,1900.7 360.8,1892.6 365.9,1884.9 C371.0,1877.2 376.1,1870.9 381.2,1863.5 C386.3,1856.1 391.4,1848.9 396.5,1840.5 C401.6,1832.1 408.0,1819.6 411.8,1813.0 C415.6,1806.4 414.0,1808.1 419.5,1800.7 C425.0,1793.3 436.7,1778.2 444.6,1768.8 C452.5,1759.4 458.8,1752.4 467.0,1744.2 C475.2,1736.0 484.5,1726.7 493.8,1719.6 C503.1,1712.5 514.2,1708.9 522.8,1701.8 C531.3,1694.7 537.3,1685.4 545.1,1677.2 C552.9,1669.0 561.8,1659.4 569.6,1652.7 C577.4,1646.0 584.5,1643.0 592.0,1637.1 C599.5,1631.1 605.4,1623.5 614.3,1617.0 C623.2,1610.5 636.6,1604.5 645.5,1598.0 C654.4,1591.5 660.4,1582.4 667.9,1577.9 C675.4,1573.4 683.5,1571.7 690.2,1571.2 C697.0,1570.7 703.9,1573.7 708.4,1575.0 C712.9,1576.3 711.7,1577.4 717.0,1579.0 C722.3,1580.6 733.1,1581.5 740.3,1584.5 C747.5,1587.5 754.5,1593.2 760.0,1597.0 C765.5,1600.8 769.1,1603.0 773.6,1607.2 C778.1,1611.4 782.7,1617.3 787.2,1622.1 C791.7,1626.8 796.3,1631.2 800.8,1635.7 C805.3,1640.2 810.4,1645.0 814.3,1649.3 C818.1,1653.6 820.7,1657.2 823.9,1661.5 C827.1,1665.8 830.5,1670.8 833.4,1675.1 C836.3,1679.4 837.9,1682.8 841.5,1687.3 C845.1,1691.8 850.6,1697.5 855.1,1702.3 C859.6,1707.1 863.7,1711.6 868.7,1715.9 C873.7,1720.2 880.0,1723.6 885.0,1728.1 C890.0,1732.6 894.5,1737.8 898.6,1743.0 C902.7,1748.2 905.4,1752.7 909.5,1759.3 C913.6,1765.9 918.5,1774.7 923.0,1782.4 C927.5,1790.1 933.0,1798.7 936.6,1805.5 C940.2,1812.3 942.1,1816.0 944.8,1823.2 C947.5,1830.5 950.4,1841.3 952.9,1849.0 C955.4,1856.7 956.8,1860.9 960.0,1869.4 C963.2,1877.9 968.8,1891.3 972.3,1900.0 C975.8,1908.7 977.6,1913.6 980.9,1921.7 C984.1,1929.8 988.5,1939.8 991.8,1948.8 C995.1,1957.8 997.6,1966.0 1000.5,1975.9 C1003.4,1985.8 1006.0,1998.1 1009.1,2008.4 C1012.2,2018.7 1014.9,2025.6 1019.1,2037.5 C1023.3,2049.4 1030.8,2069.2 1034.4,2079.6 C1038.0,2090.0 1037.7,2091.5 1040.6,2100.0 C1043.5,2108.5 1048.2,2120.4 1051.8,2130.6 C1055.4,2140.8 1058.6,2151.3 1062.0,2161.2 C1065.4,2171.1 1068.8,2181.0 1072.2,2189.8 C1075.6,2198.7 1079.0,2206.3 1082.4,2214.3 C1085.8,2222.3 1089.3,2230.3 1092.7,2237.8 C1096.1,2245.3 1099.7,2252.2 1102.9,2259.2 C1106.1,2266.2 1108.1,2272.1 1112.1,2280.0 C1116.1,2287.9 1121.7,2298.3 1126.8,2306.8 C1131.9,2315.3 1137.6,2322.9 1142.9,2330.9 C1148.2,2338.9 1153.6,2347.4 1158.9,2355.0 C1164.2,2362.6 1169.2,2369.2 1175.0,2376.4 C1180.8,2383.6 1187.5,2390.8 1193.7,2397.9 C1200.0,2405.1 1206.2,2412.2 1212.5,2419.3 C1218.8,2426.4 1225.4,2435.1 1231.2,2440.7 C1237.0,2446.3 1241.3,2449.5 1247.3,2452.8 C1253.3,2456.2 1260.7,2457.7 1267.4,2460.8 C1274.1,2463.9 1282.1,2468.6 1287.5,2471.5 C1292.9,2474.4 1292.0,2473.8 1300.0,2478.0 C1308.0,2482.2 1325.4,2492.6 1335.2,2496.5 C1345.0,2500.4 1349.9,2498.8 1358.7,2501.6 C1367.5,2504.4 1378.2,2510.6 1388.0,2513.3 C1397.8,2516.0 1407.6,2516.3 1417.4,2517.7 C1427.2,2519.0 1439.4,2520.3 1446.7,2521.4 C1454.0,2522.5 1454.1,2523.8 1461.4,2524.3 C1468.7,2524.8 1482.2,2524.7 1490.7,2524.3 C1499.2,2523.9 1506.2,2522.3 1512.7,2522.1 C1519.2,2521.9 1521.4,2522.7 1530.0,2522.9 C1538.6,2523.1 1553.2,2522.9 1564.3,2523.5 C1575.4,2524.1 1587.8,2526.5 1596.8,2526.7 C1605.8,2526.9 1610.5,2526.4 1618.5,2524.6 C1626.5,2522.8 1636.5,2517.5 1644.5,2515.9 C1652.5,2514.3 1658.2,2514.3 1666.2,2514.8 C1674.2,2515.3 1684.6,2515.7 1692.2,2519.1 C1699.8,2522.5 1708.5,2532.7 1711.7,2535.4" fill="none" stroke="#3e3e3e" stroke-width="2.5" stroke-linejoin="round"/>
<line x1="688.7" y1="1437" x2="688.7" y2="2226" stroke="#000" stroke-width="4.5" stroke-dasharray="19.5,19.5"/>
<line x1="676.3" y1="1448.3" x2="753.8" y2="2175" stroke="#ff0000" stroke-width="3.5"/>
<polygon points="746.5,2171.5 763.8,2171.5 757.7,2205.5" fill="#ff0000"/>
<g transform="matrix(1.00490,0,0,0.98765,-3.64,28.15)"><text id="redshift" x="712.0" y="2259.8" font-size="57" fill="#ff0000">red-shifted</text></g>
<g transform="matrix(1.00242,0,0,0.93200,-6.71,151.76)"><text id="Blab" x="1467.0" y="2255.4" font-size="83" font-weight="bold">(B)</text></g>
<rect x="1119.6" y="1396.0" width="594.9" height="517.3" fill="#fff"/>
<rect x="1262.2" y="1803.8" width="178.6" height="60" fill="#00ff00"/>
<g transform="matrix(1.00949,0,0,1.01481,-11.84,-27.75)"><text id="dl15" x="1268.0" y="1848.9" font-size="38" font-weight="bold">Δλ=15 nm</text></g>
<path d="M1121.8,1889.8 C1123.5,1889.2 1128.2,1888.2 1132.0,1886.0 C1135.8,1883.8 1140.5,1879.9 1144.7,1876.6 C1149.0,1873.3 1153.2,1870.7 1157.5,1866.4 C1161.8,1862.2 1166.0,1856.6 1170.2,1851.1 C1174.4,1845.6 1178.7,1839.7 1182.9,1833.3 C1187.2,1826.9 1191.5,1820.1 1195.7,1812.9 C1200.0,1805.7 1204.2,1797.7 1208.4,1790.0 C1212.6,1782.3 1217.1,1773.9 1221.1,1767.0 C1225.1,1760.1 1228.7,1755.0 1232.5,1748.5 C1236.3,1742.0 1240.2,1735.6 1244.0,1728.0 C1247.8,1720.4 1251.5,1711.6 1255.5,1703.0 C1259.5,1694.4 1264.0,1684.7 1268.3,1676.2 C1272.5,1667.7 1276.8,1659.1 1281.0,1651.9 C1285.2,1644.7 1289.5,1638.3 1293.8,1632.8 C1298.0,1627.3 1302.2,1622.1 1306.5,1618.8 C1310.8,1615.5 1315.0,1613.8 1319.3,1613.0 C1323.5,1612.2 1327.3,1613.5 1332.0,1613.7 C1336.7,1613.9 1343.0,1612.6 1347.3,1614.3 C1351.6,1616.0 1353.8,1620.2 1357.6,1623.9 C1361.4,1627.6 1366.0,1631.9 1370.3,1636.6 C1374.5,1641.3 1378.8,1645.5 1383.1,1651.9 C1387.3,1658.3 1391.5,1667.0 1395.8,1674.9 C1400.0,1682.8 1404.3,1691.4 1408.6,1699.1 C1412.8,1706.8 1417.3,1714.1 1421.3,1720.8 C1425.3,1727.5 1428.8,1732.6 1432.8,1739.5 C1436.8,1746.4 1441.2,1755.4 1445.5,1762.4 C1449.8,1769.4 1454.0,1775.8 1458.3,1781.6 C1462.5,1787.3 1466.8,1792.0 1471.0,1796.9 C1475.2,1801.8 1479.5,1806.7 1483.8,1810.9 C1488.0,1815.2 1492.2,1818.8 1496.5,1822.4 C1500.8,1826.0 1505.0,1829.4 1509.3,1832.6 C1513.5,1835.8 1517.8,1838.7 1522.0,1841.5 C1526.2,1844.3 1530.5,1846.9 1534.8,1849.2 C1539.1,1851.5 1543.3,1853.3 1547.6,1855.6 C1551.8,1857.9 1556.0,1860.9 1560.3,1863.2 C1564.5,1865.5 1569.8,1868.0 1573.1,1869.6 C1576.4,1871.2 1575.9,1871.2 1580.0,1872.9 C1584.1,1874.6 1592.0,1877.5 1597.9,1879.6 C1603.9,1881.7 1609.8,1883.6 1615.7,1885.4 C1621.7,1887.2 1627.6,1889.2 1633.6,1890.7 C1639.5,1892.2 1645.5,1893.5 1651.4,1894.3 C1657.4,1895.1 1663.3,1895.3 1669.3,1895.6 C1675.2,1895.9 1679.8,1895.9 1687.1,1896.1 C1694.4,1896.2 1708.7,1896.4 1713.0,1896.5" fill="none" stroke="#a45fde" stroke-width="2.4" stroke-linejoin="round"/>
<path d="M1121.8,1885.1 C1123.5,1884.7 1128.2,1884.6 1132.0,1882.6 C1135.8,1880.6 1140.5,1876.8 1144.7,1873.2 C1149.0,1869.7 1153.2,1865.8 1157.5,1861.3 C1161.8,1856.8 1166.0,1851.8 1170.2,1846.0 C1174.4,1840.2 1178.7,1833.2 1182.9,1826.5 C1187.2,1819.8 1191.5,1813.3 1195.7,1806.1 C1200.0,1798.9 1204.2,1791.1 1208.4,1783.2 C1212.6,1775.3 1216.8,1767.1 1221.1,1758.6 C1225.3,1750.1 1229.9,1740.4 1233.9,1732.3 C1237.9,1724.2 1241.4,1718.9 1245.0,1710.2 C1248.6,1701.5 1251.6,1689.7 1255.5,1680.0 C1259.4,1670.3 1264.0,1660.4 1268.3,1651.9 C1272.5,1643.4 1276.8,1635.8 1281.0,1629.0 C1285.2,1622.2 1289.5,1616.2 1293.8,1611.1 C1298.0,1606.0 1302.2,1601.6 1306.5,1598.4 C1310.8,1595.2 1315.5,1593.4 1319.3,1592.0 C1323.1,1590.6 1325.2,1589.9 1329.5,1590.1 C1333.8,1590.3 1340.1,1591.7 1344.8,1593.3 C1349.5,1594.9 1353.3,1596.4 1357.6,1599.6 C1361.8,1602.8 1366.0,1607.5 1370.3,1612.4 C1374.5,1617.3 1378.8,1622.6 1383.1,1629.0 C1387.3,1635.4 1391.5,1642.8 1395.8,1650.7 C1400.0,1658.6 1404.3,1667.5 1408.6,1676.2 C1412.8,1684.9 1417.3,1694.6 1421.3,1703.0 C1425.3,1711.4 1428.8,1718.9 1432.8,1726.7 C1436.8,1734.5 1441.2,1742.7 1445.5,1749.7 C1449.8,1756.7 1454.0,1763.1 1458.3,1768.8 C1462.5,1774.5 1466.8,1779.4 1471.0,1784.1 C1475.2,1788.8 1479.5,1792.9 1483.8,1796.9 C1488.0,1801.0 1492.2,1804.6 1496.5,1808.4 C1500.8,1812.2 1505.0,1816.2 1509.3,1819.8 C1513.5,1823.4 1517.8,1826.7 1522.0,1830.1 C1526.2,1833.5 1530.5,1837.1 1534.8,1840.3 C1539.1,1843.5 1543.3,1846.5 1547.6,1849.2 C1551.8,1852.0 1556.0,1854.2 1560.3,1856.8 C1564.5,1859.3 1569.8,1862.7 1573.1,1864.5 C1576.4,1866.3 1575.9,1865.7 1580.0,1867.5 C1584.1,1869.3 1592.0,1872.5 1597.9,1875.5 C1603.9,1878.5 1609.8,1882.7 1615.7,1885.4 C1621.7,1888.1 1627.6,1890.5 1633.6,1891.6 C1639.5,1892.7 1642.5,1892.0 1651.4,1892.1 C1660.3,1892.2 1676.8,1891.8 1687.1,1892.1 C1697.4,1892.4 1708.7,1893.5 1713.0,1893.8" fill="none" stroke="#20a35c" stroke-width="2.4" stroke-linejoin="round"/>
<path d="M1121.8,1886.8 C1123.5,1885.8 1128.2,1883.6 1132.0,1880.9 C1135.8,1878.2 1140.5,1874.5 1144.7,1870.7 C1149.0,1866.9 1153.2,1862.9 1157.5,1857.9 C1161.8,1853.0 1166.0,1847.2 1170.2,1841.0 C1174.4,1834.8 1178.7,1827.5 1182.9,1820.6 C1187.2,1813.6 1191.5,1806.9 1195.7,1799.3 C1200.0,1791.7 1204.2,1782.9 1208.4,1774.7 C1212.6,1766.5 1216.8,1758.6 1221.1,1750.1 C1225.3,1741.6 1230.3,1733.0 1233.9,1723.8 C1237.5,1714.6 1239.2,1705.3 1242.8,1695.0 C1246.4,1684.7 1251.2,1672.5 1255.5,1662.1 C1259.8,1651.7 1264.0,1641.9 1268.3,1632.8 C1272.5,1623.7 1276.8,1614.9 1281.0,1607.3 C1285.2,1599.7 1289.5,1592.9 1293.8,1586.9 C1298.0,1581.0 1302.2,1575.4 1306.5,1571.6 C1310.8,1567.8 1315.0,1565.4 1319.3,1563.9 C1323.5,1562.4 1327.8,1562.3 1332.0,1562.7 C1336.2,1563.1 1340.5,1564.4 1344.8,1566.5 C1349.1,1568.6 1353.3,1571.4 1357.6,1575.4 C1361.8,1579.4 1366.0,1584.8 1370.3,1590.7 C1374.5,1596.7 1378.8,1603.6 1383.1,1611.1 C1387.3,1618.5 1391.5,1626.7 1395.8,1635.4 C1400.0,1644.1 1404.3,1653.8 1408.6,1663.4 C1412.8,1673.0 1417.3,1684.8 1421.3,1692.8 C1425.3,1700.8 1428.8,1704.1 1432.8,1711.4 C1436.8,1718.8 1441.2,1729.0 1445.5,1736.9 C1449.8,1744.8 1454.0,1752.2 1458.3,1758.6 C1462.5,1765.0 1466.8,1770.3 1471.0,1775.2 C1475.2,1780.1 1479.5,1784.0 1483.8,1788.0 C1488.0,1792.0 1492.2,1795.8 1496.5,1799.4 C1500.8,1803.0 1505.0,1806.2 1509.3,1809.6 C1513.5,1813.0 1517.8,1816.4 1522.0,1819.8 C1526.2,1823.2 1530.5,1826.7 1534.8,1830.1 C1539.1,1833.5 1543.3,1837.1 1547.6,1840.3 C1551.8,1843.5 1556.0,1846.2 1560.3,1849.2 C1564.5,1852.2 1569.8,1855.8 1573.1,1858.1 C1576.4,1860.4 1575.9,1860.2 1580.0,1863.0 C1584.1,1865.8 1592.0,1871.6 1597.9,1874.6 C1603.9,1877.6 1609.8,1879.0 1615.7,1880.9 C1621.7,1882.9 1627.6,1885.0 1633.6,1886.3 C1639.5,1887.6 1645.5,1888.3 1651.4,1888.9 C1657.4,1889.5 1663.3,1889.3 1669.3,1889.8 C1675.2,1890.2 1679.8,1891.3 1687.1,1891.6 C1694.4,1891.9 1708.7,1891.6 1713.0,1891.6" fill="none" stroke="#0c5edc" stroke-width="2.4" stroke-linejoin="round"/>
<path d="M1121.8,1881.7 C1123.5,1880.4 1128.6,1876.9 1132.0,1874.1 C1135.4,1871.3 1138.8,1868.1 1142.2,1864.7 C1145.6,1861.3 1149.0,1857.7 1152.4,1853.7 C1155.8,1849.8 1159.2,1845.8 1162.6,1841.0 C1166.0,1836.2 1169.3,1830.6 1172.7,1824.8 C1176.1,1819.0 1179.8,1812.0 1182.9,1806.1 C1186.0,1800.2 1188.6,1795.3 1191.4,1789.2 C1194.2,1783.1 1197.1,1776.3 1199.9,1769.6 C1202.7,1762.9 1205.6,1756.0 1208.4,1749.2 C1211.2,1742.4 1214.1,1735.7 1216.9,1728.9 C1219.7,1722.1 1223.3,1713.3 1225.4,1708.5 C1227.5,1703.7 1226.7,1708.2 1229.6,1700.0 C1232.5,1691.8 1238.5,1673.3 1242.8,1659.6 C1247.1,1645.8 1251.2,1630.9 1255.5,1617.5 C1259.8,1604.1 1264.0,1590.5 1268.3,1579.2 C1272.5,1567.9 1276.8,1558.4 1281.0,1549.9 C1285.2,1541.4 1289.5,1534.6 1293.8,1528.2 C1298.0,1521.8 1302.2,1515.8 1306.5,1511.6 C1310.8,1507.4 1315.5,1505.1 1319.3,1503.3 C1323.1,1501.5 1325.2,1501.2 1329.5,1500.8 C1333.8,1500.4 1341.0,1500.0 1344.8,1500.8 C1348.6,1501.5 1349.0,1501.8 1352.4,1505.3 C1355.8,1508.8 1360.9,1515.4 1365.2,1521.8 C1369.5,1528.2 1373.8,1535.0 1378.0,1543.5 C1382.2,1552.0 1386.5,1562.5 1390.7,1572.9 C1395.0,1583.3 1399.2,1595.4 1403.5,1606.0 C1407.8,1616.6 1411.6,1625.6 1416.2,1636.6 C1420.8,1647.6 1426.1,1661.2 1431.0,1672.0 C1435.9,1682.8 1441.0,1691.7 1445.5,1701.2 C1450.0,1710.8 1454.0,1721.0 1458.3,1729.3 C1462.5,1737.6 1466.8,1744.6 1471.0,1751.0 C1475.2,1757.4 1479.5,1762.5 1483.8,1767.6 C1488.0,1772.7 1492.2,1776.9 1496.5,1781.6 C1500.8,1786.3 1505.0,1791.1 1509.3,1795.6 C1513.5,1800.1 1517.8,1804.6 1522.0,1808.4 C1526.2,1812.2 1530.5,1815.2 1534.8,1818.6 C1539.1,1822.0 1543.3,1825.6 1547.6,1828.8 C1551.8,1832.0 1556.0,1834.7 1560.3,1837.7 C1564.5,1840.7 1569.8,1844.2 1573.1,1846.6 C1576.4,1849.0 1575.9,1849.1 1580.0,1852.3 C1584.1,1855.5 1592.0,1862.0 1597.9,1865.7 C1603.9,1869.4 1609.8,1872.1 1615.7,1874.6 C1621.7,1877.1 1627.6,1879.0 1633.6,1880.9 C1639.5,1882.9 1645.5,1885.0 1651.4,1886.3 C1657.4,1887.6 1663.3,1888.5 1669.3,1888.9 C1675.2,1889.3 1682.6,1889.2 1687.1,1888.9 C1691.6,1888.6 1691.8,1887.5 1696.1,1887.1 C1700.4,1886.7 1710.2,1886.8 1713.0,1886.7" fill="none" stroke="#ee2a2e" stroke-width="2.4" stroke-linejoin="round"/>
<path d="M1121.8,1875.8 C1122.9,1875.2 1125.8,1874.5 1128.6,1872.4 C1131.4,1870.3 1135.4,1866.7 1138.8,1863.0 C1142.2,1859.3 1145.6,1854.8 1149.0,1850.3 C1152.4,1845.8 1155.8,1841.1 1159.2,1835.9 C1162.6,1830.7 1165.9,1824.6 1169.3,1818.9 C1172.7,1813.2 1176.4,1807.6 1179.5,1801.9 C1182.6,1796.2 1185.2,1791.1 1188.0,1784.9 C1190.8,1778.7 1193.7,1771.6 1196.5,1764.5 C1199.3,1757.4 1202.2,1750.4 1205.0,1742.5 C1207.8,1734.6 1210.8,1724.1 1213.5,1717.0 C1216.2,1709.9 1218.3,1707.5 1221.1,1700.0 C1223.8,1692.5 1226.4,1683.9 1230.0,1672.3 C1233.6,1660.7 1238.5,1644.1 1242.8,1630.3 C1247.0,1616.5 1251.2,1603.2 1255.5,1589.4 C1259.8,1575.6 1264.0,1560.3 1268.3,1547.3 C1272.5,1534.3 1276.8,1522.9 1281.0,1511.6 C1285.2,1500.3 1289.5,1489.3 1293.8,1479.7 C1298.0,1470.1 1302.2,1459.7 1306.5,1454.2 C1310.8,1448.7 1315.2,1448.3 1319.3,1446.6 C1323.3,1444.9 1327.2,1443.8 1330.8,1444.0 C1334.4,1444.2 1337.0,1445.6 1341.0,1447.9 C1345.0,1450.2 1350.5,1454.1 1355.0,1458.1 C1359.5,1462.1 1364.0,1466.8 1367.8,1472.1 C1371.6,1477.4 1374.6,1483.2 1378.0,1490.0 C1381.4,1496.8 1384.4,1503.4 1388.2,1512.9 C1392.0,1522.5 1396.7,1535.6 1400.9,1547.3 C1405.2,1559.0 1409.5,1570.3 1413.7,1583.1 C1418.0,1595.9 1423.2,1614.4 1426.4,1623.9 C1429.6,1633.4 1429.6,1632.4 1432.8,1640.0 C1436.0,1647.6 1441.2,1659.7 1445.5,1669.3 C1449.8,1678.9 1454.0,1688.7 1458.3,1697.4 C1462.5,1706.1 1466.8,1714.2 1471.0,1721.6 C1475.2,1729.0 1479.5,1735.4 1483.8,1742.0 C1488.0,1748.6 1492.2,1755.5 1496.5,1761.2 C1500.8,1767.0 1505.0,1771.8 1509.3,1776.5 C1513.5,1781.2 1517.8,1785.2 1522.0,1789.2 C1526.2,1793.2 1530.5,1797.3 1534.8,1800.7 C1539.1,1804.1 1543.3,1806.2 1547.6,1809.6 C1551.8,1813.0 1556.0,1817.0 1560.3,1821.1 C1564.5,1825.1 1569.8,1830.9 1573.1,1833.9 C1576.4,1836.9 1575.9,1835.1 1580.0,1838.9 C1584.1,1842.7 1592.0,1852.0 1597.9,1856.8 C1603.9,1861.6 1609.8,1864.5 1615.7,1867.5 C1621.7,1870.5 1627.6,1872.8 1633.6,1874.6 C1639.5,1876.4 1645.5,1877.3 1651.4,1878.2 C1657.4,1879.1 1663.3,1879.5 1669.3,1880.0 C1675.2,1880.5 1681.1,1880.3 1687.1,1880.9 C1693.0,1881.5 1700.7,1883.1 1705.0,1883.6 C1709.3,1884.0 1711.7,1883.6 1713.0,1883.6" fill="none" stroke="#3e3e3e" stroke-width="2.4" stroke-linejoin="round"/>
<line x1="1331" y1="1411.5" x2="1331" y2="1665" stroke="#000" stroke-width="2.2"/>
<polygon points="1324.8,1661 1337.8,1661 1331,1686.8" fill="#000"/>
<line x1="1119.6" y1="1396.0" x2="1119.6" y2="1914.8" stroke="#000" stroke-width="3.2"/>
<line x1="1118.1" y1="1913.3" x2="1714.5" y2="1913.3" stroke="#000" stroke-width="3.2"/>
<line x1="1119.6" y1="1913.3" x2="1127.6" y2="1913.3" stroke="#000" stroke-width="2.5"/>
<line x1="1119.6" y1="1793.8" x2="1127.6" y2="1793.8" stroke="#000" stroke-width="2.5"/>
<line x1="1119.6" y1="1674.3" x2="1127.6" y2="1674.3" stroke="#000" stroke-width="2.5"/>
<line x1="1119.6" y1="1554.8" x2="1127.6" y2="1554.8" stroke="#000" stroke-width="2.5"/>
<line x1="1119.6" y1="1435.3" x2="1127.6" y2="1435.3" stroke="#000" stroke-width="2.5"/>
<line x1="1119.6" y1="1853.5" x2="1123.6" y2="1853.5" stroke="#000" stroke-width="2.5"/>
<line x1="1119.6" y1="1734.0" x2="1123.6" y2="1734.0" stroke="#000" stroke-width="2.5"/>
<line x1="1119.6" y1="1614.5" x2="1123.6" y2="1614.5" stroke="#000" stroke-width="2.5"/>
<line x1="1119.6" y1="1495.0" x2="1123.6" y2="1495.0" stroke="#000" stroke-width="2.5"/>
<line x1="1179.0" y1="1913.3" x2="1179.0" y2="1906.3" stroke="#000" stroke-width="2.5"/>
<line x1="1297.9" y1="1913.3" x2="1297.9" y2="1906.3" stroke="#000" stroke-width="2.5"/>
<line x1="1416.8" y1="1913.3" x2="1416.8" y2="1906.3" stroke="#000" stroke-width="2.5"/>
<line x1="1535.8" y1="1913.3" x2="1535.8" y2="1906.3" stroke="#000" stroke-width="2.5"/>
<line x1="1654.7" y1="1913.3" x2="1654.7" y2="1906.3" stroke="#000" stroke-width="2.5"/>
<line x1="1238.5" y1="1913.3" x2="1238.5" y2="1909.8" stroke="#000" stroke-width="2.5"/>
<line x1="1357.4" y1="1913.3" x2="1357.4" y2="1909.8" stroke="#000" stroke-width="2.5"/>
<line x1="1476.3" y1="1913.3" x2="1476.3" y2="1909.8" stroke="#000" stroke-width="2.5"/>
<line x1="1595.2" y1="1913.3" x2="1595.2" y2="1909.8" stroke="#000" stroke-width="2.5"/>
<g transform="matrix(0.98750,0,0,1.08235,15.33,-158.75)"><text id="iy0" x="1108.0" y="1926.3" font-size="38" font-weight="bold" text-anchor="end">0</text></g>
<g transform="matrix(0.98857,0,0,1.03529,14.15,-65.98)"><text id="iy150" x="1108.0" y="1806.8" font-size="38" font-weight="bold" text-anchor="end">150</text></g>
<g transform="matrix(1.00000,0,0,1.03529,1.50,-61.77)"><text id="iy300" x="1108.0" y="1687.3" font-size="38" font-weight="bold" text-anchor="end">300</text></g>
<g transform="matrix(0.98182,0,0,1.03529,21.62,-57.56)"><text id="iy450" x="1108.0" y="1567.8" font-size="38" font-weight="bold" text-anchor="end">450</text></g>
<g transform="matrix(0.99539,0,0,1.03529,6.60,-53.34)"><text id="iy600" x="1108.0" y="1448.3" font-size="38" font-weight="bold" text-anchor="end">600</text></g>
<g transform="matrix(1.02593,0,0,1.00784,-30.42,-15.17)"><text id="ix270" x="1179.0" y="1953.0" font-size="38" font-weight="bold" text-anchor="middle">270</text></g>
<g transform="matrix(1.02593,0,0,1.00784,-33.60,-15.17)"><text id="ix280" x="1297.9" y="1953.0" font-size="38" font-weight="bold" text-anchor="middle">280</text></g>
<g transform="matrix(1.03070,0,0,1.00784,-43.42,-15.17)"><text id="ix290" x="1416.8" y="1953.0" font-size="38" font-weight="bold" text-anchor="middle">290</text></g>
<g transform="matrix(1.02593,0,0,1.00784,-39.72,-15.17)"><text id="ix300" x="1535.8" y="1953.0" font-size="38" font-weight="bold" text-anchor="middle">300</text></g>
<g transform="matrix(1.02593,0,0,1.00784,-42.90,-15.17)"><text id="ix310" x="1654.7" y="1953.0" font-size="38" font-weight="bold" text-anchor="middle">310</text></g>
<g transform="matrix(1.03315,0,0,0.91884,-46.11,160.60)"><text id="ixlab" x="1417.0" y="1990.2" font-size="38" font-weight="bold" text-anchor="middle">Wavelength (nm)</text></g>
<g transform="matrix(0.97655,0,0,0.97850,22.42,35.16)"><text id="iylab" transform="translate(1039.2,1655.5) rotate(-90)" font-size="40" font-weight="bold" text-anchor="middle">Fluorescence Intensity (a.u.)</text></g>
<rect x="218.6" y="1396.0" width="1495.9" height="1142.8" fill="none" stroke="#000" stroke-width="3.5"/>
<line x1="218.6" y1="2348.3" x2="237.6" y2="2348.3" stroke="#000" stroke-width="3.5"/>
<line x1="218.6" y1="2157.9" x2="237.6" y2="2157.9" stroke="#000" stroke-width="3.5"/>
<line x1="218.6" y1="1967.4" x2="237.6" y2="1967.4" stroke="#000" stroke-width="3.5"/>
<line x1="218.6" y1="1776.9" x2="237.6" y2="1776.9" stroke="#000" stroke-width="3.5"/>
<line x1="218.6" y1="1586.5" x2="237.6" y2="1586.5" stroke="#000" stroke-width="3.5"/>
<line x1="218.6" y1="2443.6" x2="228.6" y2="2443.6" stroke="#000" stroke-width="3"/>
<line x1="218.6" y1="2253.1" x2="228.6" y2="2253.1" stroke="#000" stroke-width="3"/>
<line x1="218.6" y1="2062.6" x2="228.6" y2="2062.6" stroke="#000" stroke-width="3"/>
<line x1="218.6" y1="1872.2" x2="228.6" y2="1872.2" stroke="#000" stroke-width="3"/>
<line x1="218.6" y1="1681.7" x2="228.6" y2="1681.7" stroke="#000" stroke-width="3"/>
<line x1="218.6" y1="1491.2" x2="228.6" y2="1491.2" stroke="#000" stroke-width="3"/>
<line x1="467.9" y1="2538.8" x2="467.9" y2="2518.8" stroke="#000" stroke-width="3.5"/>
<line x1="717.2" y1="2538.8" x2="717.2" y2="2518.8" stroke="#000" stroke-width="3.5"/>
<line x1="966.6" y1="2538.8" x2="966.6" y2="2518.8" stroke="#000" stroke-width="3.5"/>
<line x1="1215.9" y1="2538.8" x2="1215.9" y2="2518.8" stroke="#000" stroke-width="3.5"/>
<line x1="1465.2" y1="2538.8" x2="1465.2" y2="2518.8" stroke="#000" stroke-width="3.5"/>
<line x1="343.3" y1="2538.8" x2="343.3" y2="2527.8" stroke="#000" stroke-width="3"/>
<line x1="592.6" y1="2538.8" x2="592.6" y2="2527.8" stroke="#000" stroke-width="3"/>
<line x1="841.9" y1="2538.8" x2="841.9" y2="2527.8" stroke="#000" stroke-width="3"/>
<line x1="1091.2" y1="2538.8" x2="1091.2" y2="2527.8" stroke="#000" stroke-width="3"/>
<line x1="1340.5" y1="2538.8" x2="1340.5" y2="2527.8" stroke="#000" stroke-width="3"/>
<line x1="1589.8" y1="2538.8" x2="1589.8" y2="2527.8" stroke="#000" stroke-width="3"/>
<g transform="matrix(1.05098,0,0,1.02857,-8.43,-75.59)"><text id="by0" x="196.0" y="2559.3" font-size="60" font-weight="bold" text-anchor="end">0</text></g>
<g transform="matrix(1.02530,0,0,1.01863,-3.65,-46.76)"><text id="by100" x="196.0" y="2368.8" font-size="60" font-weight="bold" text-anchor="end">100</text></g>
<g transform="matrix(1.00997,0,0,1.01863,-0.68,-43.44)"><text id="by200" x="196.0" y="2178.4" font-size="60" font-weight="bold" text-anchor="end">200</text></g>
<g transform="matrix(1.00702,0,0,1.01863,-0.11,-39.85)"><text id="by300" x="196.0" y="1987.9" font-size="60" font-weight="bold" text-anchor="end">300</text></g>
<g transform="matrix(0.98966,0,0,1.01863,3.25,-36.27)"><text id="by400" x="196.0" y="1797.4" font-size="60" font-weight="bold" text-anchor="end">400</text></g>
<g transform="matrix(1.00997,0,0,1.01863,-0.68,-32.69)"><text id="by500" x="196.0" y="1607.0" font-size="60" font-weight="bold" text-anchor="end">500</text></g>
<g transform="matrix(1.00408,0,0,1.01863,0.46,-29.10)"><text id="by600" x="196.0" y="1416.5" font-size="60" font-weight="bold" text-anchor="end">600</text></g>
<g transform="matrix(1.01765,0,0,1.04348,-4.31,-113.09)"><text id="bx260" x="218.6" y="2607.5" font-size="60" font-weight="bold" text-anchor="middle">260</text></g>
<g transform="matrix(1.01765,0,0,1.04348,-8.64,-113.09)"><text id="bx270" x="467.9" y="2607.5" font-size="60" font-weight="bold" text-anchor="middle">270</text></g>
<g transform="matrix(1.01466,0,0,1.04348,-10.96,-113.09)"><text id="bx280" x="717.2" y="2607.5" font-size="60" font-weight="bold" text-anchor="middle">280</text></g>
<g transform="matrix(1.01765,0,0,1.04348,-17.56,-113.09)"><text id="bx290" x="966.6" y="2607.5" font-size="60" font-weight="bold" text-anchor="middle">290</text></g>
<g transform="matrix(1.01466,0,0,1.04348,-18.14,-113.09)"><text id="bx300" x="1215.9" y="2607.5" font-size="60" font-weight="bold" text-anchor="middle">300</text></g>
<g transform="matrix(1.02105,0,0,1.04348,-31.21,-113.09)"><text id="bx310" x="1465.2" y="2607.5" font-size="60" font-weight="bold" text-anchor="middle">310</text></g>
<g transform="matrix(1.01170,0,0,1.04348,-20.35,-113.09)"><text id="bx320" x="1714.5" y="2607.5" font-size="60" font-weight="bold" text-anchor="middle">320</text></g>
<g transform="matrix(0.98092,0,0,0.95247,19.56,126.73)"><text id="bxlab" x="965.7" y="2671.5" font-size="61" font-weight="bold" text-anchor="middle">Wavelength (nm)</text></g>
<g transform="matrix(0.99361,0,0,0.99304,1.01,12.69)"><text id="bylab" transform="translate(83.1,1967.0) rotate(-90)" font-size="60" font-weight="bold" text-anchor="middle">Fluorescence Intensity (a.u.)</text></g>
</svg></body></html>
